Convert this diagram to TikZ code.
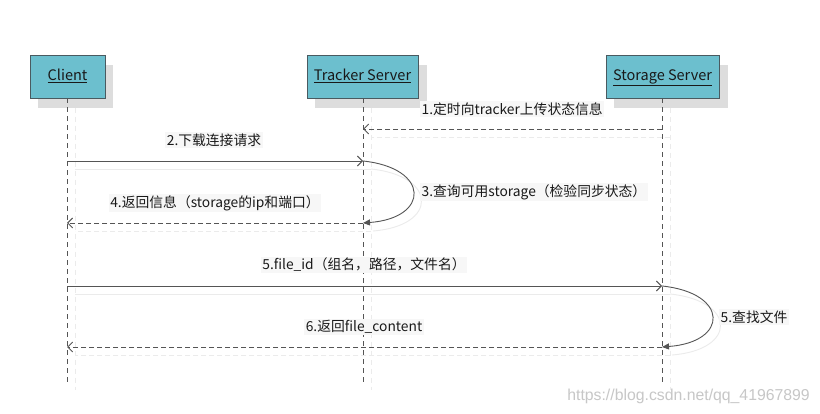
\documentclass[tikz,border=0pt]{standalone}
\usepackage{fontspec}
\setmainfont{Noto Sans CJK SC}
\newfontfamily\wmfont{Liberation Sans}
\usetikzlibrary{arrows.meta}
\definecolor{boxfill}{HTML}{6CBFCE}
\definecolor{boxline}{HTML}{4A5A60}
\definecolor{shadowc}{HTML}{DDDDDD}
\definecolor{linec}{HTML}{555555}
\definecolor{faint}{HTML}{EBEBEB}
\tikzset{
  actor/.style={draw=boxline, line width=0.8pt, fill=boxfill, minimum height=43pt, inner sep=0pt, text height=11pt, text depth=3pt, font=\fontsize{14.5}{16}\selectfont, text=black!90},
  actorshadow/.style={fill=shadowc, draw=none},
  life/.style={draw=linec, dash pattern=on 5pt off 4pt, line width=0.7pt},
  lifeshadow/.style={draw=faint, dash pattern=on 5pt off 4pt, line width=0.7pt},
  msg/.style={draw=linec, line width=0.9pt, -{Straight Barb[length=5pt,width=10pt]}},
  reply/.style={msg, dash pattern=on 5pt off 3pt},
  selfcall/.style={draw=linec, line width=0.9pt, -{Triangle[length=7pt,width=6pt]}},
  msgshadow/.style={draw=faint, line width=0.9pt},
  lbl/.style={fill=white!97!black, inner sep=1.5pt, font=\fontsize{13.8}{16}\selectfont, text=black!90},
}
\begin{document}
\begin{tikzpicture}[x=1pt,y=-1pt]
\path[use as bounding box, fill=white] (0,0) rectangle (820,414);
% shadows of actor boxes
\fill[actorshadow] (38,65) rectangle (113,108);
\fill[actorshadow] (315,65) rectangle (427,108);
\fill[actorshadow] (614,65) rectangle (728,108);
% actor boxes
\node[actor, minimum width=75pt] (client) at (67.5,76.5) {\underline{Client}};
\node[actor, minimum width=111pt] (tracker) at (362.5,76.5) {\underline{Tracker Server}};
\node[actor, minimum width=113pt] (storage) at (662.5,76.5) {\underline{Storage Server}};
% lifeline ends
\coordinate (cEnd) at (67,382);
\coordinate (tEnd) at (363,382);
\coordinate (sEnd) at (662,382);
% lifeline shadows
\draw[lifeshadow] (75,108) -- (75,390);
\draw[lifeshadow] (371,108) -- (371,390);
\draw[lifeshadow] (670,108) -- (670,390);
% lifelines
\draw[life] (client.south -| cEnd) -- (cEnd);
\draw[life] (tracker.south -| tEnd) -- (tEnd);
\draw[life] (storage.south -| sEnd) -- (sEnd);
% message points
\coordinate (s1) at (662,129); \coordinate (t1) at (363,129);
\coordinate (c2) at (67,161);  \coordinate (t2) at (363,161);
\coordinate (t4) at (363,223); \coordinate (c4) at (67,223);
\coordinate (c5) at (67,286);  \coordinate (s5) at (662,286);
\coordinate (s6) at (662,347); \coordinate (c6) at (67,347);
% message shadows
\draw[msgshadow, dash pattern=on 5pt off 3pt] (670,137) -- (371,137);
\draw[msgshadow] (75,169) -- (371,169);
\draw[msgshadow] (371,169) .. controls (438,176) and (438,226) .. (373,231);
\draw[msgshadow, dash pattern=on 5pt off 3pt] (371,231) -- (75,231);
\draw[msgshadow] (75,294) -- (670,294);
\draw[msgshadow] (670,294) .. controls (737,301) and (737,350) .. (672,355);
\draw[msgshadow, dash pattern=on 5pt off 3pt] (670,355) -- (75,355);
% messages
\draw[reply] (s1) -- (t1);
\node[lbl, anchor=west] (l1) at (420,109) {1.定时向tracker上传状态信息};
\draw[msg] (c2) -- (t2);
\node[lbl] (l2) at (214,140) {2.下载连接请求};
\draw[selfcall] (t2) .. controls (430,168) and (430,218) .. (t4);
\node[lbl, anchor=west] (l3) at (420,192) {3.查询可用storage（检验同步状态）};
\draw[reply] (t4) -- (c4);
\node[lbl] (l4) at (215,203) {4.返回信息（storage的ip和端口）};
\draw[msg] (c5) -- (s5);
\node[lbl] (l5) at (364,265) {5.file\_id（组名，路径，文件名）};
\draw[selfcall] (s5) .. controls (729,293) and (729,342) .. (s6);
\node[lbl, anchor=west] (l5b) at (719,317) {5.查找文件};
\draw[reply] (s6) -- (c6);
\node[lbl] (l6) at (364,327) {6.返回file\_content};
% watermark
\node[text=black!22, font=\wmfont\fontsize{15.8}{18}\selectfont, anchor=east, inner sep=0pt] (wm) at (810,396) {https://blog.csdn.net/qq\_41967899};
\end{tikzpicture}
\end{document}
